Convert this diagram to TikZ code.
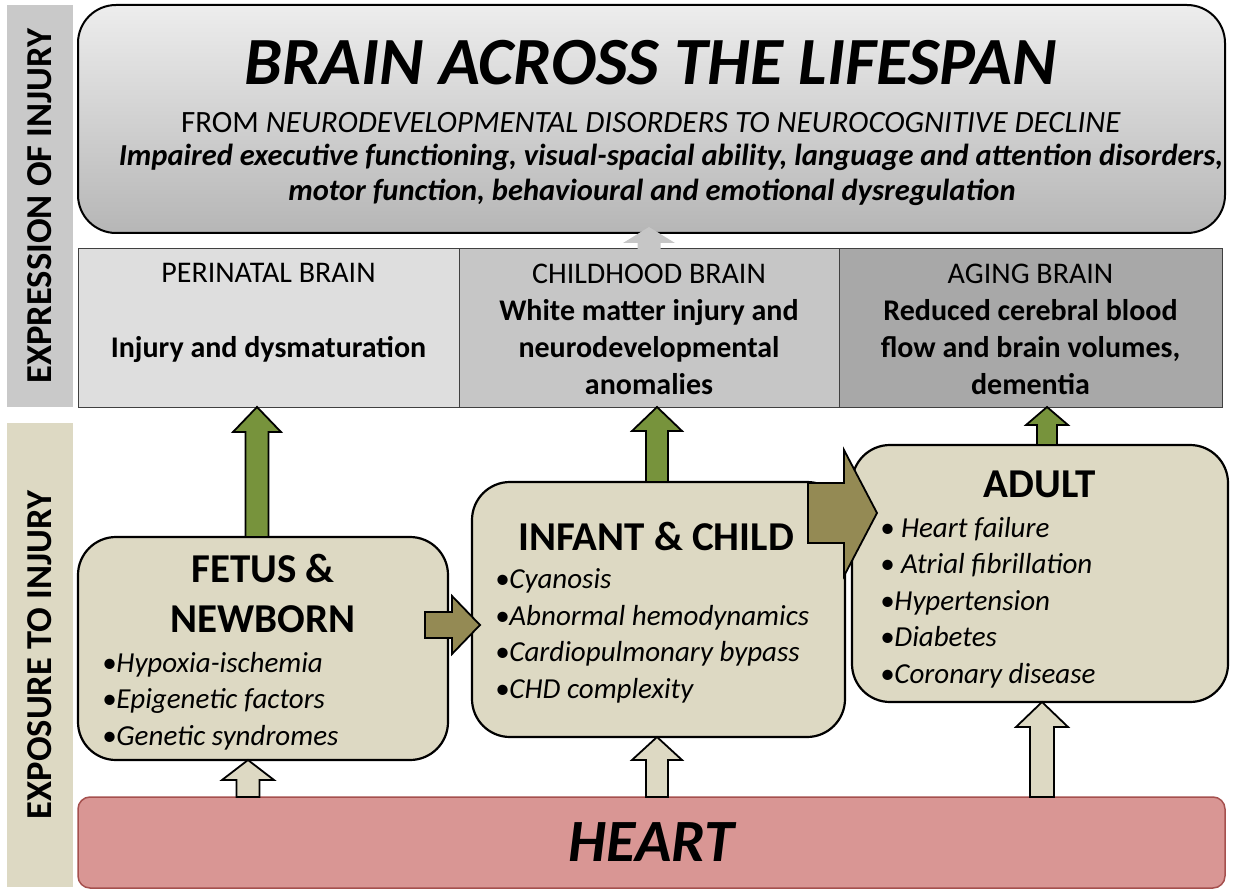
\documentclass[tikz,border=0pt]{standalone}
\usepackage{fontspec}
\setmainfont{Carlito}
\usepackage{tikz}
\usetikzlibrary{positioning,calc}
\definecolor{mgreen}{HTML}{77933C}
\definecolor{molive}{HTML}{948A54}
\definecolor{mtan}{HTML}{DDD9C3}
\definecolor{mrose}{HTML}{D99694}
\definecolor{mrosedark}{HTML}{A5504E}
\definecolor{mgrayA}{HTML}{DEDEDE}
\definecolor{mgrayB}{HTML}{C6C6C6}
\definecolor{mgrayC}{HTML}{A8A8A8}
\definecolor{mbar}{HTML}{C9C9C9}
\definecolor{mtop}{HTML}{EDEDED}
\definecolor{mbottom}{HTML}{B6B6B6}

% block arrows: style, base, tip, half shaft, half head, head length
\newcommand{\blockup}[6]{%
  \draw[blockarrow, #1] ($(#2)+(-#4,0)$) -- ($(#2 |- #3)+(-#4,#6)$) -- ($(#2 |- #3)+(-#5,#6)$)
    -- (#2 |- #3) -- ($(#2 |- #3)+(#5,#6)$) -- ($(#2 |- #3)+(#4,#6)$) -- ($(#2)+(#4,0)$) -- cycle;}
\newcommand{\blockright}[6]{%
  \draw[blockarrow, #1] ($(#2)+(0,-#4)$) -- ($(#3)+(-#6,-#4)$) -- ($(#3)+(-#6,-#5)$)
    -- (#3) -- ($(#3)+(-#6,#5)$) -- ($(#3)+(-#6,#4)$) -- ($(#2)+(0,#4)$) -- cycle;}

\begin{document}
\begin{tikzpicture}[x=1pt, y=-1pt,
  every node/.style={inner sep=0pt, outer sep=0pt},
  side/.style={rotate=90, minimum height=66pt, font=\fontsize{36.5}{40}\selectfont\bfseries},
  cell/.style={draw=black!75, line width=1pt, minimum height=158pt, anchor=north west},
  celltext/.style={align=center, anchor=base, font=\fontsize{30}{37}\selectfont},
  stage/.style={draw, line width=2.2pt, rounded corners=38pt, fill=mtan},
  stagehead/.style={align=center, anchor=base, font=\fontsize{41}{50}\selectfont\bfseries},
  items/.style={align=left, anchor=base west, font=\fontsize{29}{36.5}\selectfont\itshape},
  deficit/.style={anchor=base, font=\fontsize{30.5}{35}\selectfont\bfseries\itshape},
  blockarrow/.style={draw, line width=1.8pt, line join=miter}]
\useasboundingbox (0,0) rectangle (1236,890);
% Barras laterais
\node[side, fill=mbar, minimum width=402pt] (expr) at (40,206) {EXPRESSION OF INJURY};
\node[side, fill=mtan, minimum width=464pt] (expo) at (40,655) {EXPOSURE TO INJURY};
% Caixa do cérebro
\node[draw, line width=2pt, rounded corners=38pt, top color=mtop, bottom color=mbottom,
      minimum width=1147pt, minimum height=228pt] (brain) at (651.5,119) {};
\node[anchor=base, font=\fontsize{67.5}{70}\selectfont\bfseries\itshape] (title) at (651,85) {BRAIN ACROSS THE LIFESPAN};
\node[anchor=base, font=\fontsize{31}{35}\selectfont] (span) at (651,133) {FROM \textit{NEURODEVELOPMENTAL DISORDERS TO NEUROCOGNITIVE DECLINE}};
\node[deficit] (deficits-a) at (671,166) {Impaired executive functioning, visual-spacial ability, language and attention disorders,};
\node[deficit] (deficits-b) at (652,201) {motor function, behavioural and emotional dysregulation};
% Linha das fases do cérebro (base = última linha)
\node[cell, fill=mgrayA, minimum width=381pt] (peri) at (78,249) {};
\node[cell, fill=mgrayB, minimum width=380pt, right=0pt of peri] (child) {};
\node[cell, fill=mgrayC, minimum width=383pt, right=0pt of child] (aging) {};
\node[celltext] (peri-t) at (peri.north |- 0,357) {PERINATAL BRAIN\\[37pt]\textbf{Injury and dysmaturation}};
\node[celltext] (child-t) at (child.north |- 0,394) {CHILDHOOD BRAIN\\\textbf{White matter injury and}\\\textbf{neurodevelopmental}\\\textbf{anomalies}};
\node[celltext] (aging-t) at (aging.north |- 0,394) {AGING BRAIN\\\textbf{Reduced cerebral blood}\\\textbf{flow and brain volumes,}\\\textbf{dementia}};
% Fases de exposição
\node[stage, minimum width=370pt, minimum height=223pt] (fetus) at (263,648.5) {};
\node[stage, minimum width=373pt, minimum height=255pt] (infant) at (658.5,609.5) {};
\node[stage, minimum width=376pt, minimum height=257pt] (adult) at (1040,573.5) {};
\node[stagehead] (fetus-h) at (263,632) {FETUS \&\\NEWBORN};
\node[items] (fetus-l) at (102,745) {•Hypoxia-ischemia\\•Epigenetic factors\\•Genetic syndromes};
\node[stagehead] (infant-h) at (656,550) {INFANT \& CHILD};
\node[items] (infant-l) at (495,698) {•Cyanosis\\•Abnormal hemodynamics\\•Cardiopulmonary bypass\\•CHD complexity};
\node[stagehead] (adult-h) at (1040,497) {ADULT};
\node[items] (adult-l) at (880,683) {• Heart failure\\• Atrial fibrillation\\•Hypertension\\•Diabetes\\•Coronary disease};
% Coração
\node[draw=mrosedark, fill=mrose, line width=1.5pt, rounded corners=12pt, minimum width=1147pt, minimum height=91pt,
      font=\fontsize{60}{64}\selectfont\bfseries\itshape] (heart) at (651.5,842.5) {HEART};
% Setas
\coordinate (g1) at (257,0 |- fetus.north);
\coordinate (g2) at (657,0 |- infant.north);
\coordinate (g3) at (1047,0 |- adult.north);
\coordinate (h1) at (248,0 |- heart.north);
\coordinate (h2) at (657,0 |- heart.north);
\coordinate (h3) at (1042,0 |- heart.north);
\coordinate (o1) at ($(fetus.east |- 0,625)+(-23,0)$);
\coordinate (o1tip) at ($(infant.west |- 0,625)+(8,0)$);
\coordinate (o2) at ($(infant.east |- 0,513)+(-37,0)$);
\coordinate (o2tip) at ($(adult.west |- 0,513)+(25,0)$);
\coordinate (gr) at (649,0 |- child.north);
\coordinate (grtip) at ($(649,0 |- brain.south)+(0,-6)$);
\blockup{fill=mgrayB, draw=none}{gr}{grtip}{11.5}{26}{16}
\blockup{fill=mgreen}{g1}{peri.south}{11.5}{24}{25}
\blockup{fill=mgreen}{g2}{child.south}{11}{25}{24}
\blockup{fill=mgreen}{g3}{aging.south}{10}{21}{18}
\blockup{fill=mtan}{h1}{fetus.south}{11.5}{26}{20}
\blockup{fill=mtan}{h2}{infant.south}{11}{25}{23}
\blockup{fill=mtan}{h3}{adult.south}{12}{26}{25}
\blockright{fill=molive}{o1}{o1tip}{13}{29}{28}
\blockright{fill=molive}{o2}{o2tip}{30}{63}{33}
\end{tikzpicture}
\end{document}
